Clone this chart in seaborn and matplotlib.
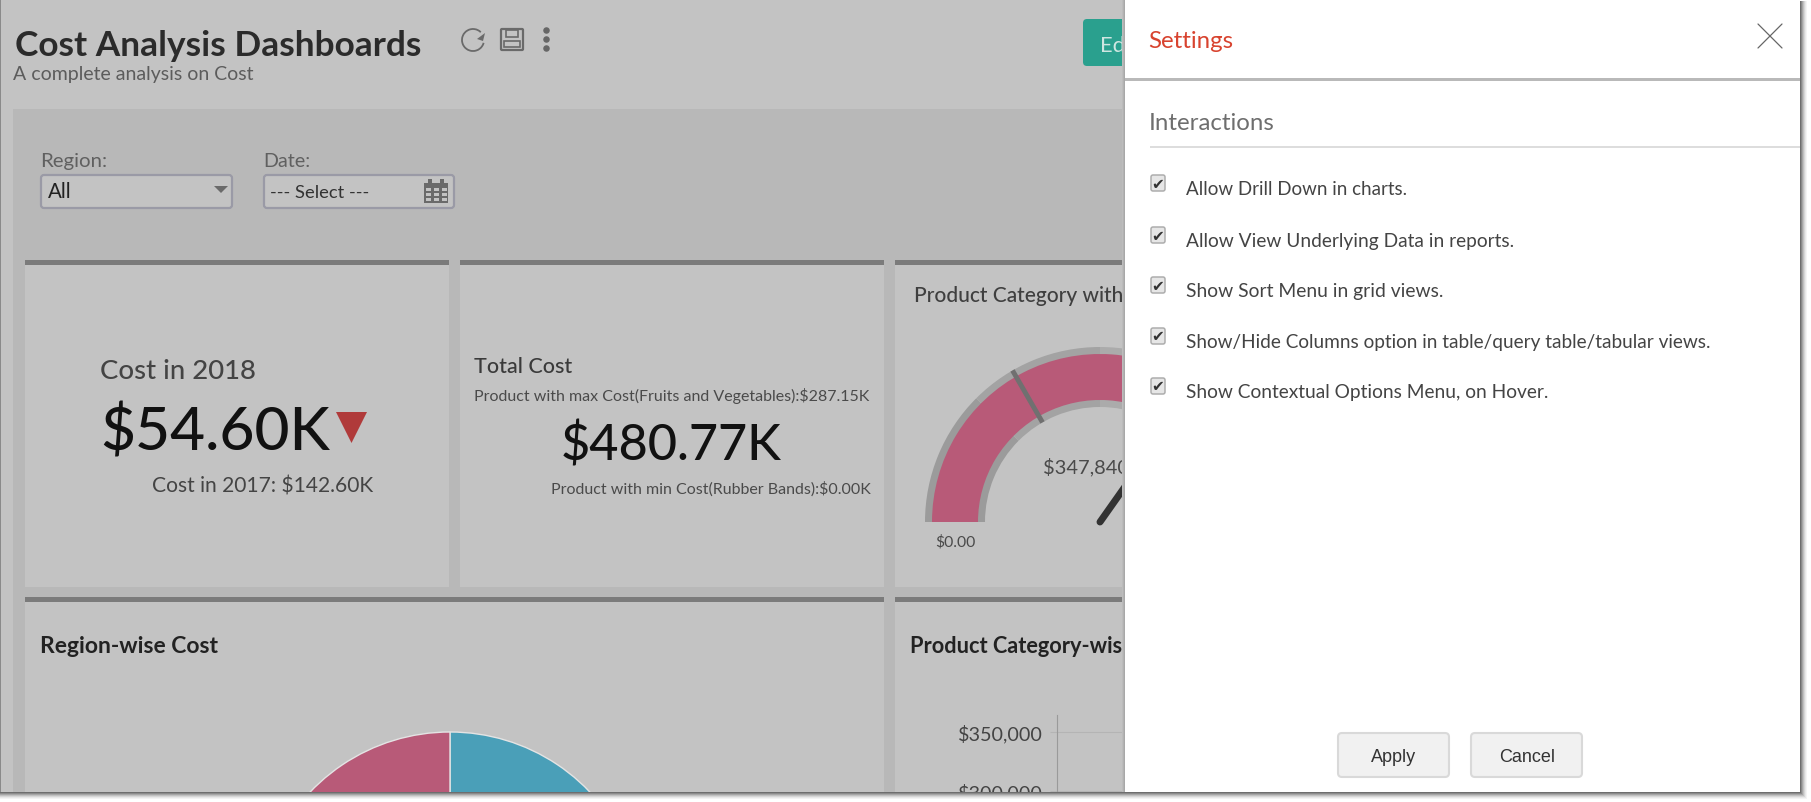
import matplotlib
matplotlib.use('Agg')
import matplotlib.pyplot as plt
from matplotlib.patches import Rectangle, FancyBboxPatch, Polygon, Arc
from matplotlib.font_manager import FontProperties
from matplotlib.textpath import TextPath
import numpy as np
import pandas as pd
import seaborn as sns

W, H = 1811, 803
sns.set_theme(style='white')
plt.rcParams['font.family'] = ['Lato', 'DejaVu Sans']

# values shown on the dashboard
gauge_max = 500000
gauge_value = 347840
gauge_target = 166667
region_cost = pd.Series({'East': 180000, 'North': 120000, 'South': 90000, 'West': 90770})
category_cost = pd.DataFrame({'category': ['Other', 'Top'], 'cost': [132930, 347840]})

fig = plt.figure(figsize=(W / 100, H / 100), dpi=100, facecolor='white')
ax = fig.add_axes([0, 0, 1, 1], zorder=0)
top = fig.add_axes([0, 0, 1, 1], zorder=2)
top.patch.set_alpha(0)
for a in (ax, top):
    a.set_xlim(0, W)
    a.set_ylim(0, H)
    a.axis('off')


def box(a, x0, y0, x1, y1, color, z=1, **kw):
    a.add_patch(Rectangle((x0, H - y1), x1 - x0, y1 - y0, fc=color, ec='none', zorder=z, **kw))


def rbox(a, x0, y0, x1, y1, fc, ec, lw=1.5, r=3, z=3):
    a.add_patch(FancyBboxPatch((x0 + r, H - y1 + r), x1 - x0 - 2 * r, y1 - y0 - 2 * r,
                               boxstyle='round,pad=%d' % r, fc=fc, ec=ec, lw=lw, zorder=z))


# text helper: font size picked so the string is as wide as in the screenshot
def label(a, x, y, s, width, color='#3a3a3a', weight='normal', family='Lato', ha='left', z=5):
    fp = FontProperties(family=family, weight=weight)
    w10 = TextPath((0, 0), s, size=10, prop=fp).get_extents().width
    size = 10 * width / w10 * 0.72
    a.text(x, H - y, s, fontsize=size, color=color, family=family,
           weight=weight, ha=ha, va='center_baseline', zorder=z)


# page background
box(ax, 0, 0, W, H, '#c3c3c3', 0)
box(ax, 13, 110, 1125, 795, '#b8b8b8', 1)

# cards
cards = [(25, 261, 449, 588), (460, 261, 884, 588), (895, 261, 1125, 588),
         (25, 598, 884, 795), (895, 598, 1125, 795)]
for x0, y0, x1, y1 in cards:
    box(ax, x0, y0, x1, y1, '#c3c3c3', 1)
    box(ax, x0, y0, x1, y0 + 5, '#7b7b7b', 2)

# header
label(ax, 15, 43, 'Cost Analysis Dashboards', 404, '#2b2b2b', 'bold')
label(ax, 13, 73, 'A complete analysis on Cost', 241, '#5c5c5c')
ax.add_patch(Arc((473, H - 41), 22, 22, theta1=45, theta2=345, ec='#6a6a6a', lw=1.3, zorder=4))
ax.add_patch(Polygon([(485, H - 34), (483, H - 42), (477, H - 40)], fc='#6a6a6a', ec='none', zorder=4))
rbox(ax, 501, 30, 523, 51, 'none', '#6a6a6a', lw=1.6, r=1)
rbox(ax, 506, 31, 518, 38, 'none', '#6a6a6a', lw=1.2, r=0)
rbox(ax, 504, 42, 520, 48, 'none', '#6a6a6a', lw=1.2, r=0)
ax.scatter([546, 546, 546], [H - 31, H - 40, H - 49], s=22, color='#666666', linewidths=0, zorder=4)
rbox(ax, 1083, 20, 1140, 67, '#2aa08e', 'none', lw=0, r=4)
label(ax, 1100, 44, 'Edit', 36, '#cfe6e1')

# filters
label(ax, 40, 160, 'Region:', 64, '#606060')
label(ax, 263, 160, 'Date:', 44, '#606060')
rbox(ax, 41, 176, 232, 209, '#c3c3c3', '#9a9aa6', lw=1.6)
rbox(ax, 264, 176, 454, 209, '#c3c3c3', '#9a9aa6', lw=1.6)
label(ax, 48, 190.5, 'All', 22, '#222222')
label(ax, 270.5, 192, '--- Select ---', 97, '#333333')
ax.add_patch(Polygon([(214, H - 187), (228, H - 187), (221, H - 194)], fc='#6a6a6a', ec='none', zorder=4))
box(ax, 424, 184, 448, 204, '#6a6a6a', 4)
for cx in (430, 442):
    box(ax, cx - 2, 180, cx + 2, 186, '#6a6a6a', 4)
for row in (188.5, 193.5, 198.5):
    for cx in (426, 434, 442):
        box(ax, cx, row, cx + 5, row + 3.5, '#c3c3c3', 5)

# card 1
label(ax, 100, 369, 'Cost in 2018', 153, '#444444', 'medium')
label(ax, 100, 428, '$54.60K', 227, '#111111', 'medium')
ax.add_patch(Polygon([(336, H - 413), (367, H - 413), (351.5, H - 444)], fc='#b03a3a', ec='none', zorder=4))
label(ax, 152, 485, 'Cost in 2017: $142.60K', 221, '#444444')

# card 2
label(ax, 474, 365, 'Total Cost', 97, '#3a3a3a', 'medium')
label(ax, 474, 395, 'Product with max Cost(Fruits and Vegetables):$287.15K', 395, '#4a4a4a')
label(ax, 561, 442, '$480.77K', 219, '#111111', 'medium')
label(ax, 551, 488, 'Product with min Cost(Rubber Bands):$0.00K', 318, '#4a4a4a')

# gauge card
label(ax, 914, 294, 'Product Category with', 205, '#3f3f3f', 'medium')
cx, cy = 1100, H - 523
ax.pie([gauge_max / 4] * 4 + [gauge_max], center=(cx, cy), radius=175, startangle=180,
       counterclock=False, colors=['#9b9b9b', '#a3a3a3', '#ababab', '#ababab', 'none'],
       wedgeprops=dict(width=60, zorder=2, linewidth=0, edgecolor='none'))
ax.pie([gauge_value, gauge_max - gauge_value, gauge_max], center=(cx, cy), radius=168,
       startangle=180, counterclock=False, colors=['#b85a78', 'none', 'none'],
       wedgeprops=dict(width=46, zorder=3, linewidth=0, edgecolor='none'))
ang = np.pi * (1 - gauge_target / gauge_max)
ax.plot([cx + 115 * np.cos(ang), cx + 175 * np.cos(ang)], [cy + 115 * np.sin(ang), cy + 175 * np.sin(ang)],
        color='#707070', lw=3.5, zorder=4, solid_capstyle='butt')
ang = np.pi * (1 - gauge_value / gauge_max)
ax.plot([cx, cx + 110 * np.cos(ang)], [cy, cy + 110 * np.sin(ang)], color='#333333', lw=5,
        zorder=4, solid_capstyle='round')
label(ax, 1043, 466, '${:,}'.format(gauge_value), 84, '#4a4a4a')
label(ax, 935.5, 541, '$0.00', 39, '#4a4a4a')

# region pie, only the top of it is on screen
label(ax, 40, 645, 'Region-wise Cost', 176, '#222222', 'bold')
ax.pie(region_cost.values, center=(450, H - 926), radius=193, startangle=90, counterclock=False,
       colors=['#4a9fb8', '#6fae7a', '#d8b04a', '#b85a78'],
       wedgeprops=dict(edgecolor='#e4e4e4', linewidth=1, zorder=3))
ax.set_xlim(0, W)
ax.set_ylim(0, H)
ax.set_aspect('auto')

# category bars, tops are below the visible part of the axis
label(ax, 910, 645, 'Product Category-wise Cost', 272, '#222222', 'bold')
ax2 = fig.add_axes([1057 / W, (H - 1146) / H, 640 / W, 430 / H], zorder=1)
ax2.patch.set_alpha(0)
sns.barplot(data=category_cost, x='category', y='cost', color='#b85a78', width=0.5, ax=ax2)
ax2.set_xlim(-0.5, 1.5)
ax2.set_ylim(0, 364400)
ticks = [300000, 350000]
ax2.set_yticks(ticks)
ax2.set_yticklabels(['${:,}'.format(t) for t in ticks], fontsize=14.2, color='#444444')
ax2.set_xlabel('')
ax2.set_ylabel('')
ax2.set_xticks([])
ax2.grid(axis='y', color='#b4b4b4', lw=0.8)
ax2.set_axisbelow(True)
ax2.tick_params(axis='y', left=True, length=5, width=0.8, color='#b4b4b4', pad=5)
sns.despine(ax=ax2, bottom=True)
ax2.spines['left'].set_color('#9a9a9a')
ax2.spines['left'].set_linewidth(0.8)

# settings panel
for i, c in enumerate(['#bcbcbc', '#b2b2b2', '#a8a8a8']):
    box(top, 1122 + i, 0, 1123 + i, 793, c, 1)
box(top, 1125, 1, 1800, 793, 'white', 1)
box(top, 1125, 79, 1800, 81.5, '#b9b9b9', 2)
box(top, 1150, 147, 1800, 149, '#dddddd', 2)
label(top, 1148, 39, 'Settings', 83, '#d8432f')
label(top, 1149, 121.5, 'Interactions', 122, '#6e6e6e')
top.plot([1758, 1782], [H - 25, H - 49], color='#666666', lw=0.9)
top.plot([1758, 1782], [H - 49, H - 25], color='#666666', lw=0.9)

options = [('Allow Drill Down in charts.', 184, 220),
           ('Allow View Underlying Data in reports.', 236, 327),
           ('Show Sort Menu in grid views.', 286, 256),
           ('Show/Hide Columns option in table/query table/tabular views.', 337, 525),
           ('Show Contextual Options Menu, on Hover.', 387, 361)]
for text, y, width in options:
    rbox(top, 1151, y - 8, 1165, y + 8, '#e6e6e6', '#adadad', lw=1.1, r=2)
    top.text(1158, H - y, '\u2714', fontsize=11, family='DejaVu Sans', color='#333333',
             ha='center', va='center', zorder=5)
    label(top, 1186, y + 4, text, width, '#444444')

for x0, x1, text, tw, tx in [(1338, 1449, 'Apply', 45, 1371), (1471, 1582, 'Cancel', 54, 1499)]:
    rbox(top, x0, 734, x1, 778, '#f1f1f1', '#d9d9d9', lw=1.5, r=4)
    label(top, tx, 756, text, tw, '#333333', family='Liberation Sans')

# screenshot frame: thin border plus soft shadow on bottom and right
box(top, 0, 793, W, H, 'white', 8)
box(top, 1800, 0, W, H, 'white', 8)
for i, c in enumerate(['#6e6e6e', '#8a8a8a', '#a6a6a6', '#c0c0c0', '#d6d6d6', '#e8e8e8', '#f4f4f4']):
    box(top, 0, 793 + i, 1801 + i, 794 + i, c, 9)
    box(top, 1800 + i, 2, 1801 + i, 794 + i, c, 9)
box(top, 0, 0, 1801, 1.2, '#8a8a8a', 9)
box(top, 0, 0, 1.2, 793, '#8a8a8a', 9)

fig.savefig('out.png', dpi=100)
